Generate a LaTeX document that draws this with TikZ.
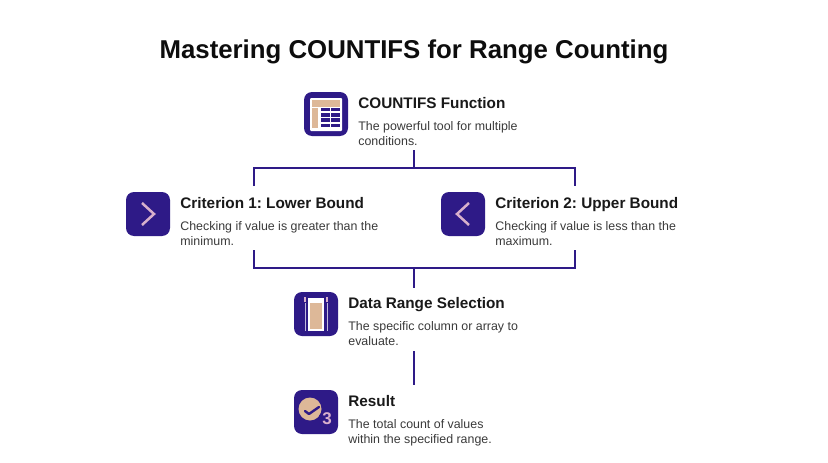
\documentclass[tikz,border=0pt]{standalone}
\usepackage{fontspec}
\setmainfont{Liberation Sans}
\usetikzlibrary{positioning}
\definecolor{indigo}{HTML}{2E1A87}
\definecolor{tan}{HTML}{DDB898}
\definecolor{lilac}{HTML}{D8B0CC}
\definecolor{bodygrey}{HTML}{3A3A3A}
\tikzset{
    iconbox/.style={draw=none, fill=indigo, rounded corners=8pt, minimum size=44pt, inner sep=0pt},
    heading/.style={anchor=base west, inner sep=0pt, font=\fontsize{15.3}{18}\selectfont\bfseries\frenchspacing, text=black!90},
    blurb/.style={anchor=north west, inner sep=0pt, align=left, font=\fontsize{12.4}{15}\selectfont, text=bodygrey},
    wire/.style={draw=indigo, line width=2pt},
}
\begin{document}
\begin{tikzpicture}[x=1pt,y=-1pt]
    \useasboundingbox[fill=white] (0,0) rectangle (828,463);

    \node [anchor=center, font=\fontsize{25.8}{30}\selectfont\bfseries, text=black!95] (titel) at (414,52) {Mastering COUNTIFS for Range Counting};

    % Bausteine
    \foreach \name/\posx/\posy/\kopf/\text in {
        func/326/114/{COUNTIFS Function}/{The powerful tool for multiple\\conditions.},
        lower/148/214/{Criterion 1: Lower Bound}/{Checking if value is greater than the\\minimum.},
        upper/463/214/{Criterion 2: Upper Bound}/{Checking if value is less than the\\maximum.},
        range/316/314/{Data Range Selection}/{The specific column or array to\\evaluate.},
        result/316/412/{Result}/{The total count of values\\within the specified range.}}
    {
        \node [iconbox] (\name) at (\posx,\posy) {};
        \node [heading] (\name kopf) at ([xshift=10pt,yshift=6pt]\name.east) {\kopf};
        \node [blurb] (\name text) at ([xshift=10pt,yshift=-7.5pt]\name.east) {\text};
    }

    % Tabelle
    \fill [white, rounded corners=1pt] ([xshift=-16pt,yshift=16pt]func.center) rectangle ++(32pt,-33pt);
    \fill [tan] ([xshift=-14pt,yshift=14pt]func.center) rectangle ++(28pt,-7pt);
    \fill [tan] ([xshift=-14pt,yshift=6pt]func.center) rectangle ++(6pt,-20pt);
    \foreach \zeile in {0,1,2,3}
        \foreach \spalte in {0,1}
            \fill [indigo] ([xshift=-5pt+\spalte*10pt,yshift=6pt-\zeile*5.2pt]func.center) rectangle ++(8.6pt,-3.4pt);

    % Winkel
    \draw [lilac, line width=2.5pt] ([xshift=-6pt,yshift=11pt]lower.center) -- ([xshift=6pt]lower.center) -- ([xshift=-6pt,yshift=-11pt]lower.center);
    \draw [lilac, line width=2.5pt] ([xshift=6pt,yshift=11pt]upper.center) -- ([xshift=-6pt]upper.center) -- ([xshift=6pt,yshift=-11pt]upper.center);

    % Spalte
    \fill [white] ([xshift=-8pt,yshift=16pt]range.center) rectangle ++(16pt,-33pt);
    \fill [tan] ([xshift=-6pt,yshift=11pt]range.center) rectangle ++(12pt,-26pt);
    \foreach \seite in {-11,11}
    {
        \draw [white!70!indigo, line width=0.6pt] ([xshift=\seite pt,yshift=11pt]range.center) -- ++(0,-28pt);
        \fill [lilac] ([xshift=\seite pt-1.2pt,yshift=17pt]range.center) rectangle ++(2.4pt,-5pt);
    }

    % Ergebnis
    \fill [tan] ([xshift=-6pt,yshift=3pt]result.center) circle[radius=11.5pt];
    \fill [indigo] ([xshift=11pt,yshift=-7pt]result.center) circle[radius=8.5pt];
    \draw [indigo, line width=2.4pt, line cap=round, line join=round] ([xshift=-11pt,yshift=1pt]result.center) -- ++(4pt,-3pt) -- ++(10pt,7pt);
    \node [inner sep=0pt, font=\fontsize{17}{18}\selectfont\bfseries, text=lilac] (drei) at ([xshift=11pt,yshift=-7pt]result.center) {3};

    % Leitungen
    \coordinate (obenmitte) at (414,150);
    \coordinate (obenknoten) at (414,168);
    \coordinate (obenlinks) at (254,186);
    \coordinate (obenrechts) at (575,186);
    \coordinate (untenlinks) at (254,250);
    \coordinate (untenrechts) at (575,250);
    \coordinate (untenknoten) at (414,268);
    \coordinate (untenmitte) at (414,288);
    \coordinate (rangeunten) at (414,351);
    \coordinate (resultoben) at (414,385);

    \draw [wire] (obenmitte) -- (obenknoten);
    \draw [wire] (obenlinks) |- (obenknoten) -| (obenrechts);
    \draw [wire] (untenlinks) |- (untenknoten) -| (untenrechts);
    \draw [wire] (untenknoten) -- (untenmitte);
    \draw [wire] (rangeunten) -- (resultoben);
\end{tikzpicture}
\end{document}
